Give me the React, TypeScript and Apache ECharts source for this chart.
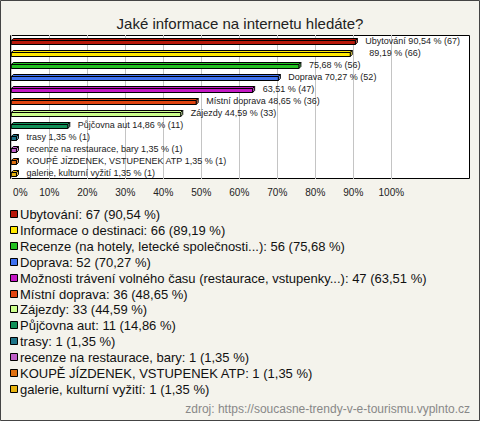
import React, { useEffect, useRef } from "react";
import * as echarts from "echarts";

const categories = [
  "Ubytování",
  "Informace o destinaci",
  "Recenze (na hotely, letecké společnosti...)",
  "Doprava",
  "Možnosti trávení volného času (restaurace, vstupenky...)",
  "Místní doprava",
  "Zájezdy",
  "Půjčovna aut",
  "trasy",
  "recenze na restaurace, bary",
  "KOUPĚ JÍZDENEK, VSTUPENEK ATP",
  "galerie, kulturní vyžití",
];
const barLabelNames = [
  "Ubytování",
  "",
  "",
  "Doprava",
  "",
  "Místní doprava",
  "Zájezdy",
  "Půjčovna aut",
  "trasy",
  "recenze na restaurace, bary",
  "KOUPĚ JÍZDENEK, VSTUPENEK ATP",
  "galerie, kulturní vyžití",
];
const counts = [67, 66, 56, 52, 47, 36, 33, 11, 1, 1, 1, 1];
const percents = [90.54, 89.19, 75.68, 70.27, 63.51, 48.65, 44.59, 14.86, 1.35, 1.35, 1.35, 1.35];
const xTicks = { min: 0, max: 100, interval: 10 };
const titleText = "Jaké informace na internetu hledáte?";
const sourceText = "zdroj: https://soucasne-trendy-v-e-tourismu.vyplnto.cz";

const palette = [
  "#b8180a",
  "#ffe800",
  "#22c022",
  "#3f72f0",
  "#c418c4",
  "#e04410",
  "#ccff8c",
  "#129058",
  "#1e7488",
  "#c060c8",
  "#e07010",
  "#e8b410",
];

const fmt = (v: number) => v.toFixed(2).replace(".", ",");
const FONT = "'Liberation Sans', Arial, sans-serif";

export default function App() {
  const ref = useRef<HTMLDivElement>(null);
  useEffect(() => {
    document.body.style.margin = "0";
    const chart = echarts.init(ref.current!, null, { renderer: "svg" });
    const labelShift: Record<number, number> = { 1: 9 };

    const legendEls: any[] = [];
    categories.forEach((name, i) => {
      const cy = 214 + i * 15.9;
      legendEls.push({
        type: "rect",
        shape: { x: 10.5, y: Math.round(cy) - 3.5, width: 7, height: 7 },
        style: { fill: palette[i], stroke: "#000", lineWidth: 1 },
        silent: true,
      });
      legendEls.push({
        type: "text",
        x: 20,
        y: cy + 0.5,
        style: {
          text: `${name}: ${counts[i]} (${fmt(percents[i])} %)`,
          fontSize: 13,
          fontFamily: FONT,
          fill: "#111",
          verticalAlign: "middle",
          align: "left",
        },
        silent: true,
      });
    });

    chart.setOption({
      animation: false,
      backgroundColor: "#f4f3ec",
      title: {
        text: titleText,
        left: "center",
        top: 11,
        textStyle: { fontSize: 15, fontWeight: "normal", color: "#222", fontFamily: FONT },
      },
      grid: { left: 11.3, width: 380, top: 35, height: 144, containLabel: false },
      xAxis: {
        type: "value",
        min: xTicks.min,
        max: xTicks.max,
        interval: xTicks.interval,
        axisLine: { show: false },
        axisTick: { show: false },
        splitLine: { show: true, lineStyle: { color: "#c4c4c4", width: 1 } },
        axisLabel: {
          formatter: (v: number) => (v === 0 ? "{z|0%}" : `${v}%`),
          rich: { z: { padding: [0, 0, 0, 18], fontSize: 10, fontFamily: FONT, color: "#222" } },
          fontSize: 10,
          fontFamily: FONT,
          color: "#222",
          margin: 8,
        },
      },
      yAxis: {
        type: "category",
        data: categories,
        inverse: true,
        show: false,
      },
      graphic: {
        elements: [
          {
            type: "rect",
            z: -10,
            shape: { x: 0.5, y: 0.5, width: 479, height: 420 },
            style: { fill: "#f4f3ec", stroke: "#444", lineWidth: 1 },
            silent: true,
          },
          {
            type: "rect",
            z: -9,
            shape: { x: 10.5, y: 35.5, width: 459, height: 143 },
            style: { fill: "#fff", stroke: "#000", lineWidth: 1 },
            silent: true,
          },
          ...legendEls,
          {
            type: "text",
            x: 470,
            y: 409,
            style: {
              text: sourceText,
              fontSize: 12,
              fontFamily: FONT,
              fill: "#888",
              align: "right",
              verticalAlign: "middle",
            },
            silent: true,
          },
        ],
      },
      series: [
        {
          type: "custom",
          coordinateSystem: "cartesian2d",
          encode: { x: 0, y: 1 },
          data: percents.map((p, i) => [p, i]),
          clip: false,
          z: 5,
          renderItem: (params: any, api: any) => {
            const i = api.value(1);
            const p = api.value(0);
            const s = api.coord([0, i]);
            const e = api.coord([p, i]);
            const x0 = s[0];
            const x1 = e[0];
            const cy = s[1];
            const d = 2;
            const yt = cy - 0.5;
            const yb = cy + 3.5;
            const col = palette[i];
            const name = barLabelNames[i];
            const label = `${name ? name + " " : ""}${fmt(percents[i])} % (${counts[i]})`;
            return {
              type: "group",
              children: [
                {
                  type: "polygon",
                  shape: { points: [[x0, yt], [x0 + d, yt - d], [x1 + d, yt - d], [x1, yt]] },
                  style: { fill: col, stroke: "#000", lineWidth: 1 },
                },
                {
                  type: "polygon",
                  shape: { points: [[x1, yt], [x1 + d, yt - d], [x1 + d, yb - d], [x1, yb]] },
                  style: { fill: echarts.color.lift(col, 0.3), stroke: "#000", lineWidth: 1 },
                },
                {
                  type: "rect",
                  shape: { x: x0, y: yt, width: x1 - x0, height: yb - yt },
                  style: { fill: col, stroke: "#000", lineWidth: 1 },
                },
                {
                  type: "text",
                  x: x1 + d + 8 + (labelShift[i] || 0),
                  y: cy,
                  style: {
                    text: label,
                    fontSize: 9,
                    fontFamily: FONT,
                    fill: "#222",
                    verticalAlign: "middle",
                    align: "left",
                  },
                },
              ],
            };
          },
        },
      ],
    });
    return () => chart.dispose();
  }, []);
  return <div ref={ref} style={{ width: 480, height: 421 }} />;
}
